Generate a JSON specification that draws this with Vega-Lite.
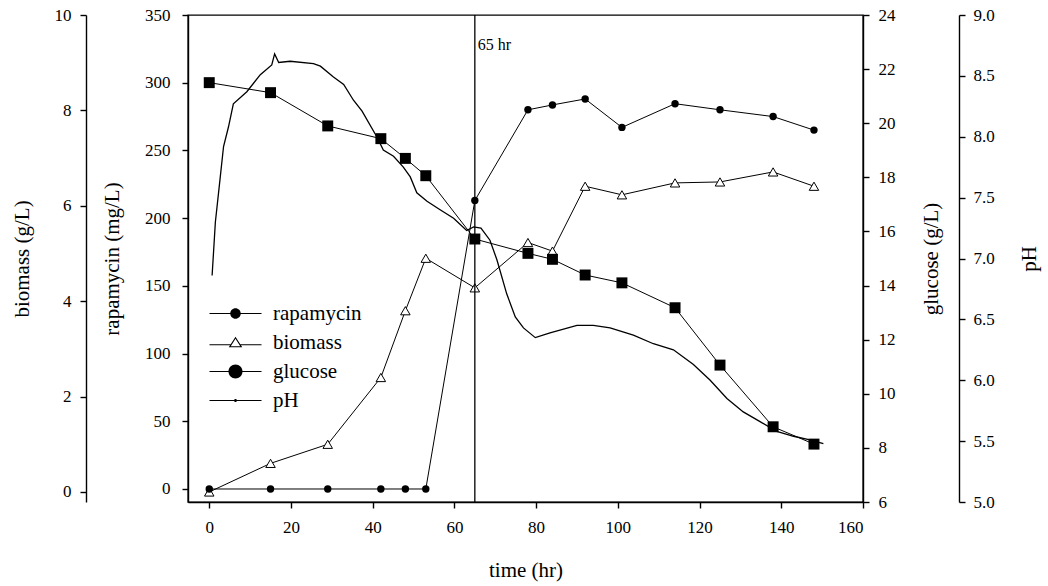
{
  "$schema": "https://vega.github.io/schema/vega-lite/v6.json",
  "width": 675,
  "height": 487,
  "autosize": {"type": "none"},
  "padding": {"left": 188, "top": 15, "right": 185, "bottom": 84},
  "background": "white",
  "config": {
    "view": {"stroke": "black", "strokeWidth": 1.4},
    "font": "Liberation Serif",
    "axis": {
      "domainColor": "black", "domainWidth": 1.4,
      "tickColor": "black", "tickWidth": 1.4, "tickSize": 6,
      "labelColor": "black", "titleColor": "black",
      "labelFont": "Liberation Serif", "titleFont": "Liberation Serif",
      "labelFontSize": 17, "titleFontSize": 21, "titleFontWeight": "normal",
      "grid": false
    },
    "legend": {"labelFont": "Liberation Serif", "labelColor": "black"}
  },
  "datasets": {
    "rap": [
      {"t": 0, "v": 0}, {"t": 15, "v": 0}, {"t": 29, "v": 0}, {"t": 42, "v": 0},
      {"t": 48, "v": 0}, {"t": 53, "v": 0}, {"t": 65, "v": 213}, {"t": 78, "v": 280},
      {"t": 84, "v": 283.6}, {"t": 92, "v": 288}, {"t": 101, "v": 267}, {"t": 114, "v": 284.5},
      {"t": 125, "v": 280}, {"t": 138, "v": 275}, {"t": 148, "v": 265}
    ],
    "bio": [
      {"t": 0, "v": 0}, {"t": 15, "v": 0.6}, {"t": 29, "v": 1.0}, {"t": 42, "v": 2.4},
      {"t": 48, "v": 3.8}, {"t": 53, "v": 4.9}, {"t": 65, "v": 4.28}, {"t": 78, "v": 5.23},
      {"t": 84, "v": 5.05}, {"t": 92, "v": 6.41}, {"t": 101, "v": 6.23}, {"t": 114, "v": 6.48},
      {"t": 125, "v": 6.5}, {"t": 138, "v": 6.71}, {"t": 148, "v": 6.41}
    ],
    "glu": [
      {"t": 0, "v": 21.5}, {"t": 15, "v": 21.13}, {"t": 29, "v": 19.9}, {"t": 42, "v": 19.43},
      {"t": 48, "v": 18.7}, {"t": 53, "v": 18.06}, {"t": 65, "v": 15.72}, {"t": 78, "v": 15.19},
      {"t": 84, "v": 14.97}, {"t": 92, "v": 14.39}, {"t": 101, "v": 14.1}, {"t": 114, "v": 13.18},
      {"t": 125, "v": 11.06}, {"t": 138, "v": 8.78}, {"t": 148, "v": 8.14}
    ],
    "ph": [
      {"t": 0.7, "v": 6.86}, {"t": 1.5, "v": 7.3}, {"t": 2.7, "v": 7.67}, {"t": 3.5, "v": 7.92},
      {"t": 4.7, "v": 8.08}, {"t": 5.9, "v": 8.27}, {"t": 9.2, "v": 8.37}, {"t": 12.5, "v": 8.51},
      {"t": 15.3, "v": 8.59}, {"t": 16.0, "v": 8.68}, {"t": 17.0, "v": 8.61}, {"t": 19.8, "v": 8.62},
      {"t": 25.5, "v": 8.6}, {"t": 27.2, "v": 8.58}, {"t": 30.4, "v": 8.49}, {"t": 32.9, "v": 8.43},
      {"t": 35.3, "v": 8.3}, {"t": 37.4, "v": 8.21}, {"t": 41.0, "v": 8.0}, {"t": 42.6, "v": 7.89},
      {"t": 45.1, "v": 7.84}, {"t": 47.5, "v": 7.75}, {"t": 49.2, "v": 7.67}, {"t": 50.8, "v": 7.54},
      {"t": 53.3, "v": 7.47}, {"t": 56.5, "v": 7.4}, {"t": 59.8, "v": 7.33}, {"t": 63.0, "v": 7.23},
      {"t": 64.7, "v": 7.26}, {"t": 66.5, "v": 7.25}, {"t": 68.7, "v": 7.15}, {"t": 70.4, "v": 6.99},
      {"t": 72.8, "v": 6.71}, {"t": 74.9, "v": 6.52}, {"t": 76.9, "v": 6.43}, {"t": 79.8, "v": 6.35},
      {"t": 83.4, "v": 6.39}, {"t": 90.0, "v": 6.45}, {"t": 94.0, "v": 6.45}, {"t": 98.1, "v": 6.43},
      {"t": 103.8, "v": 6.37}, {"t": 108.7, "v": 6.3}, {"t": 113.6, "v": 6.25}, {"t": 118.5, "v": 6.13},
      {"t": 122.6, "v": 6.0}, {"t": 126.7, "v": 5.85}, {"t": 130.7, "v": 5.74}, {"t": 134.8, "v": 5.66},
      {"t": 138.9, "v": 5.58}, {"t": 143.0, "v": 5.54}, {"t": 147.0, "v": 5.51}, {"t": 150.3, "v": 5.48}
    ],
    "marker": [{"t": 65, "label": "65 hr", "y": 328}],
    "legend": [{"series": "rapamycin"}, {"series": "biomass"}, {"series": "glucose"}, {"series": "pH"}]
  },
  "layer": [
    {
      "data": {"name": "bio"},
      "encoding": {
        "x": {"field": "t", "type": "quantitative", "scale": {"domain": [-5.2, 160], "nice": false, "zero": false},
              "axis": {"values": [0, 20, 40, 60, 80, 100, 120, 140, 160], "title": "time (hr)", "labelPadding": 11, "titlePadding": 24}},
        "y": {"field": "v", "type": "quantitative", "scale": {"domain": [-0.21, 10], "nice": false, "zero": false},
              "axis": {"orient": "left", "offset": 102, "values": [0, 2, 4, 6, 8, 10], "title": "biomass (g/L)", "labelPadding": 9, "titlePadding": 22}}
      },
      "layer": [
        {"mark": {"type": "line", "color": "black", "strokeWidth": 1}},
        {"mark": {"type": "point", "shape": "triangle-up", "filled": true, "fill": "white", "stroke": "black", "strokeWidth": 1, "size": 90, "opacity": 1}}
      ]
    },
    {
      "layer": [
        {
          "data": {"name": "rap"},
          "encoding": {
            "x": {"field": "t", "type": "quantitative", "scale": {"domain": [-5.2, 160], "nice": false, "zero": false}},
            "y": {"field": "v", "type": "quantitative", "scale": {"domain": [-9.6, 350], "nice": false, "zero": false},
                  "axis": {"orient": "left", "offset": 0, "values": [0, 50, 100, 150, 200, 250, 300, 350], "title": "rapamycin (mg/L)", "labelPadding": 12, "titlePadding": 22}}
          },
          "layer": [
            {"mark": {"type": "line", "color": "black", "strokeWidth": 1}},
            {"mark": {"type": "point", "shape": "circle", "filled": true, "color": "black", "size": 55, "opacity": 1}}
          ]
        },
        {
          "data": {"name": "marker"},
          "mark": {"type": "rule", "color": "black", "strokeWidth": 1.3},
          "encoding": {"x": {"field": "t", "type": "quantitative"}}
        },
        {
          "data": {"name": "marker"},
          "mark": {"type": "text", "align": "left", "baseline": "middle", "dx": 3, "fontSize": 16, "font": "Liberation Serif", "color": "black"},
          "encoding": {
            "x": {"field": "t", "type": "quantitative"},
            "y": {"field": "y", "type": "quantitative"},
            "text": {"field": "label"}
          }
        }
      ]
    },
    {
      "data": {"name": "glu"},
      "encoding": {
        "x": {"field": "t", "type": "quantitative", "scale": {"domain": [-5.2, 160], "nice": false, "zero": false}},
        "y": {"field": "v", "type": "quantitative", "scale": {"domain": [6, 24], "nice": false, "zero": false},
              "axis": {"orient": "right", "offset": 0, "values": [6, 8, 10, 12, 14, 16, 18, 20, 22, 24], "title": "glucose (g/L)", "titleAngle": 270, "labelPadding": 9, "titlePadding": 46}}
      },
      "layer": [
        {"mark": {"type": "line", "color": "black", "strokeWidth": 1}},
        {"mark": {"type": "point", "shape": "square", "filled": true, "color": "black", "size": 120, "opacity": 1}}
      ]
    },
    {
      "data": {"name": "ph"},
      "mark": {"type": "line", "color": "black", "strokeWidth": 1.3},
      "encoding": {
        "x": {"field": "t", "type": "quantitative", "scale": {"domain": [-5.2, 160], "nice": false, "zero": false}},
        "y": {"field": "v", "type": "quantitative", "scale": {"domain": [5, 9], "nice": false, "zero": false},
              "axis": {"orient": "right", "offset": 96, "values": [5, 5.5, 6, 6.5, 7, 7.5, 8, 8.5, 9], "format": ".1f", "title": "pH", "titleAngle": 270, "labelPadding": 8, "titlePadding": 45}}
      }
    },
    {
      "data": {"name": "legend"},
      "mark": {"type": "point", "filled": true, "fill": "black", "opacity": 0},
      "encoding": {
        "shape": {"field": "series", "type": "nominal",
          "scale": {"domain": ["rapamycin", "biomass", "glucose", "pH"],
                    "range": ["M-5.2,-0.12L5.2,-0.12L5.2,0.12L-5.2,0.12Z M1.05,0A1.05,1.05,0,1,1,-1.05,0A1.05,1.05,0,1,1,1.05,0Z",
                              "M-5.2,0.33L-1.0,0.33L-1.0,0.57L-5.2,0.57Z M1.0,0.33L5.2,0.33L5.2,0.57L1.0,0.57Z M0,-1.15L1.35,0.95L-1.35,0.95Z M0,-0.74L-0.944,0.728L0.944,0.728Z",
                              "M-5.2,-0.12L5.2,-0.12L5.2,0.12L-5.2,0.12Z M1.4,0A1.4,1.4,0,1,1,-1.4,0A1.4,1.4,0,1,1,1.4,0Z",
                              "M-5.2,-0.12L5.2,-0.12L5.2,0.12L-5.2,0.12Z M0.3,0A0.3,0.3,0,1,1,-0.3,0A0.3,0.3,0,1,1,0.3,0Z"]},
          "legend": {"orient": "none", "legendX": 37, "legendY": 288, "title": null, "padding": 0,
                     "symbolSize": 100, "labelFontSize": 21, "labelOffset": 27, "rowPadding": 7,
                     "symbolFillColor": "black", "symbolStrokeWidth": 0, "symbolOpacity": 1,
                     "encode": {"symbols": {"fill": {"value": "black"}, "opacity": {"value": 1}, "fillOpacity": {"value": 1}}}}}
      }
    }
  ],
  "resolve": {"scale": {"y": "independent"}}
}
